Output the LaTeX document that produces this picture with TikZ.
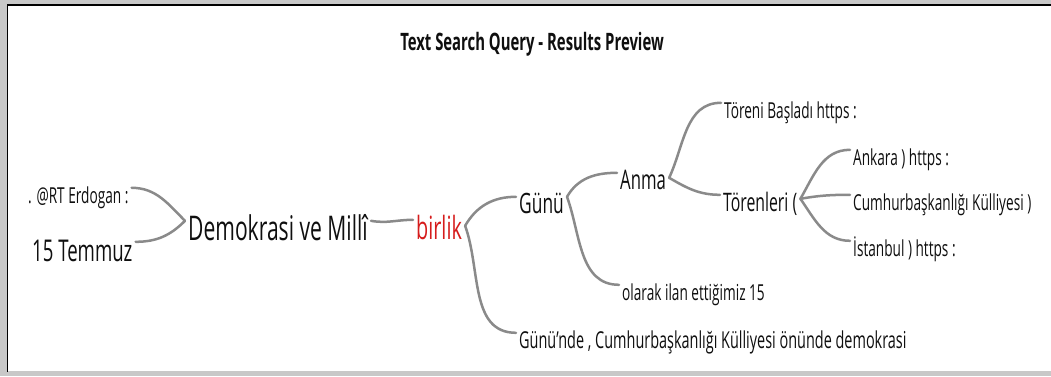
\documentclass[tikz,border=0pt]{standalone}
\usepackage{fontspec}
\setmainfont{Open Sans}[FakeStretch=0.62]
\usetikzlibrary{positioning}
\definecolor{cLine}{RGB}{138,138,138}
\definecolor{cWord}{RGB}{15,15,15}
\definecolor{cHit}{RGB}{214,28,28}
\definecolor{cFrame}{RGB}{200,200,200}
\tikzset{
	word/.style  ={anchor=base west, inner xsep=3pt, inner ysep=0pt, text=cWord},
	small/.style ={word, font=\fontsize{22}{26}\selectfont, text height=15pt, text depth=5pt},
	mid/.style   ={word, font=\fontsize{27}{32}\selectfont, text height=16pt, text depth=6pt},
	big/.style   ={word, font=\fontsize{32}{38}\selectfont, text height=19pt, text depth=7pt},
	branch/.style={draw=cLine, line width=2.5pt, line cap=round},
}

\begin{document}
\begin{tikzpicture}[x=1pt, y=1pt]
	\useasboundingbox (0,-376) rectangle (1051,0);
	% window frame
	\fill[cFrame] (0,-376) rectangle (1053,0);
	\fill[white] (8,-371) rectangle (1053,-6);
	\draw[line width=1.5pt] (7.5,-372) -- (7.5,-5) -- (1053,-5);
	\node[anchor=base, font=\bfseries\fontsize{24}{28}\selectfont, text=cWord] (title) at (532,-50) {Text Search Query - Results Preview};
	% words
	\node[small] (erdogan) at (25,-203) {. @RT Erdogan :};
	\node[big, font=\fontsize{30}{36}\selectfont] (temmuz) at (29,-261) {15 Temmuz};
	\node[big, font=\fontsize{34}{40}\selectfont] (demokrasi) at (185,-240) {Demokrasi ve Millî};
	\node[big, text=cHit] (birlik) at (413,-239) {birlik};
	\node[mid, font=\fontsize{28}{33}\selectfont] (gunu) at (516,-213) {Günü};
	\node[mid] (anma) at (617,-189) {Anma};
	\node[small] (toreni) at (721,-118) {Töreni Başladı https :};
	\node[mid, font=\fontsize{25.5}{30}\selectfont] (torenleri) at (720,-211) {Törenleri (};
	\node[small] (ankara) at (850,-165) {Ankara ) https :};
	\node[small] (cumhur) at (850,-210) {Cumhurbaşkanlığı Külliyesi )};
	\node[small] (istanbul) at (850,-256) {İstanbul ) https :};
	\node[small] (olarak) at (619,-300) {olarak ilan ettiğimiz 15};
	\node[small, font=\fontsize{23.3}{28}\selectfont] (gununde) at (516,-348) {Günü'nde , Cumhurbaşkanlığı Külliyesi önünde demokrasi};
	% branches
	\draw[branch] (erdogan.north east) to[out=0, in=135] (demokrasi.north west);
	\draw[branch] (temmuz.north east) to[out=0, in=225] (demokrasi.north west);
	\draw[branch] (demokrasi.north east) to[out=-10, in=180] (birlik.north west);
	\draw[branch] ([yshift=-6pt]birlik.north east) to[out=60, in=180] (gunu.north west);
	\draw[branch] ([yshift=-6pt]birlik.north east) to[out=-70, in=180] (gununde.north west);
	\draw[branch] (gunu.north east) to[out=60, in=180] (anma.north west);
	\draw[branch] (gunu.north east) to[out=-70, in=180] (olarak.north west);
	\draw[branch] ([yshift=-5pt]anma.north east) to[out=65, in=180] (toreni.north west);
	\draw[branch] ([yshift=-5pt]anma.north east) to[out=-30, in=180] (torenleri.north west);
	\foreach \leaf/\ang in {ankara/60, cumhur/10, istanbul/-55}
		\draw[branch] ([yshift=-4pt]torenleri.north east) to[out=\ang, in=180] (\leaf.north west);
\end{tikzpicture}
\end{document}
